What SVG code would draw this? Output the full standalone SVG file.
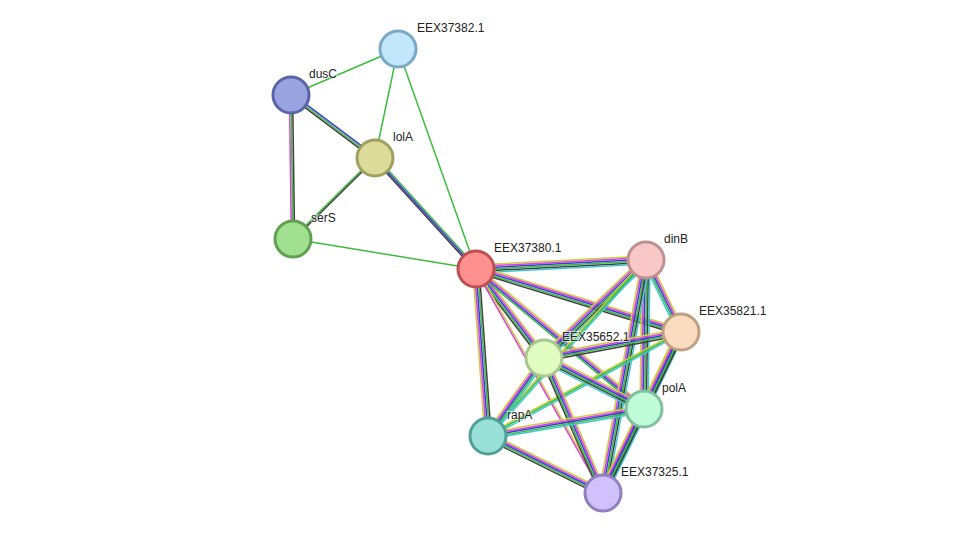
<svg xmlns="http://www.w3.org/2000/svg" xmlns:xlink="http://www.w3.org/1999/xlink" width="976" height="539" viewBox="0 0 976 539">
<style>
.g{stroke:#3dbd3d}.b{stroke:#3a3ae0}.m{stroke:#e040e0}.k{stroke:#404040}.y{stroke:#c8d040}.c{stroke:#40c8d0}
#edges line,#edges use{stroke-width:1.5;fill:none}
.n{stroke-width:3}
text{font-family:"Liberation Sans",Arial,sans-serif;font-size:12px;fill:#222;paint-order:stroke;stroke:#fff;stroke-width:2px;stroke-opacity:.6}
</style>
<defs>
<line id="e5" x1="291" y1="95" x2="375" y2="158"/>
<line id="e6" x1="291" y1="95" x2="293" y2="239"/>
<line id="e7" x1="375" y1="158" x2="293" y2="239"/>
<line id="e8" x1="375" y1="158" x2="476" y2="269"/>
<line id="e9" x1="476" y1="269" x2="646" y2="260"/>
<line id="e10" x1="476" y1="269" x2="681" y2="332"/>
<line id="e11" x1="476" y1="269" x2="544" y2="358"/>
<line id="e12" x1="476" y1="269" x2="644" y2="409"/>
<line id="e13" x1="476" y1="269" x2="488" y2="436"/>
<line id="e14" x1="476" y1="269" x2="603" y2="493"/>
<line id="e15" x1="646" y1="260" x2="681" y2="332"/>
<line id="e16" x1="646" y1="260" x2="544" y2="358"/>
<line id="e17" x1="646" y1="260" x2="644" y2="409"/>
<line id="e18" x1="646" y1="260" x2="488" y2="436"/>
<line id="e19" x1="646" y1="260" x2="603" y2="493"/>
<line id="e20" x1="681" y1="332" x2="544" y2="358"/>
<line id="e21" x1="681" y1="332" x2="644" y2="409"/>
<line id="e22" x1="681" y1="332" x2="488" y2="436"/>
<line id="e23" x1="681" y1="332" x2="603" y2="493"/>
<line id="e24" x1="544" y1="358" x2="644" y2="409"/>
<line id="e25" x1="544" y1="358" x2="488" y2="436"/>
<line id="e26" x1="544" y1="358" x2="603" y2="493"/>
<line id="e27" x1="644" y1="409" x2="488" y2="436"/>
<line id="e28" x1="644" y1="409" x2="603" y2="493"/>
<line id="e29" x1="488" y1="436" x2="603" y2="493"/>
</defs>
<rect width="976" height="539" fill="#fff"/>
<g id="edges">
<line class="g" x1="291" y1="95" x2="398" y2="49"/>
<line class="g" x1="375" y1="158" x2="398" y2="49"/>
<line class="g" x1="476" y1="269" x2="398" y2="49"/>
<line class="g" x1="293" y1="239" x2="476" y2="269"/>
<use href="#e5" class="b" transform="translate(0.96,-1.28)"/><use href="#e5" class="g"/><use href="#e5" class="k" transform="translate(-0.96,1.28)"/>
<use href="#e6" class="m" transform="translate(-1.6,0)"/><use href="#e6" class="g"/><use href="#e6" class="k" transform="translate(1.6,0)"/>
<use href="#e7" class="g" transform="translate(-0.56,-0.56)"/><use href="#e7" class="k" transform="translate(0.56,0.56)"/>
<use href="#e8" class="g" transform="translate(1.18,-1.07)"/><use href="#e8" class="b"/><use href="#e8" class="k" transform="translate(-1.18,1.07)"/>
<use href="#e9" class="y" transform="translate(0,-4)"/><use href="#e9" class="m" transform="translate(0,-2.4)"/><use href="#e9" class="b" transform="translate(0,-0.8)"/><use href="#e9" class="g" transform="translate(0,0.8)"/><use href="#e9" class="k" transform="translate(0,2.4)"/><use href="#e9" class="c" transform="translate(0,4)"/>
<use href="#e10" class="y" transform="translate(0.93,-3.07)"/><use href="#e10" class="m" transform="translate(0.46,-1.54)"/><use href="#e10" class="b"/><use href="#e10" class="g" transform="translate(-0.46,1.54)"/><use href="#e10" class="k" transform="translate(-0.93,3.07)"/>
<use href="#e11" class="y" transform="translate(2.53,-1.95)"/><use href="#e11" class="m" transform="translate(1.26,-0.98)"/><use href="#e11" class="b"/><use href="#e11" class="g" transform="translate(-1.26,0.98)"/><use href="#e11" class="k" transform="translate(-2.53,1.95)"/>
<use href="#e12" class="y" transform="translate(1.54,-1.85)"/><use href="#e12" class="m" transform="translate(0.51,-0.62)"/><use href="#e12" class="b" transform="translate(-0.51,0.62)"/><use href="#e12" class="g" transform="translate(-1.54,1.85)"/>
<use href="#e13" class="y" transform="translate(-3.2,0)"/><use href="#e13" class="m" transform="translate(-1.6,0)"/><use href="#e13" class="b"/><use href="#e13" class="g" transform="translate(1.6,0)"/><use href="#e13" class="k" transform="translate(3.2,0)"/>
<use href="#e14" class="y" transform="translate(0.7,-0.39)"/><use href="#e14" class="m" transform="translate(-0.7,0.39)"/>
<use href="#e15" class="y" transform="translate(2.88,-1.41)"/><use href="#e15" class="m" transform="translate(1.44,-0.7)"/><use href="#e15" class="b"/><use href="#e15" class="g" transform="translate(-1.44,0.7)"/><use href="#e15" class="c" transform="translate(-2.88,1.41)"/>
<use href="#e16" class="y" transform="translate(-2.76,-2.88)"/><use href="#e16" class="m" transform="translate(-1.66,-1.73)"/><use href="#e16" class="b" transform="translate(-0.55,-0.58)"/><use href="#e16" class="g" transform="translate(0.55,0.58)"/><use href="#e16" class="k" transform="translate(1.66,1.73)"/><use href="#e16" class="c" transform="translate(2.76,2.88)"/>
<use href="#e17" class="y" transform="translate(-4,0)"/><use href="#e17" class="m" transform="translate(-2.4,0)"/><use href="#e17" class="b" transform="translate(-0.8,0)"/><use href="#e17" class="g" transform="translate(0.8,0)"/><use href="#e17" class="k" transform="translate(2.4,0)"/><use href="#e17" class="c" transform="translate(4,0)"/>
<use href="#e18" class="y" transform="translate(-1.18,-1.07)"/><use href="#e18" class="g"/><use href="#e18" class="c" transform="translate(1.18,1.07)"/>
<use href="#e19" class="y" transform="translate(-3.92,-0.72)"/><use href="#e19" class="m" transform="translate(-2.35,-0.43)"/><use href="#e19" class="b" transform="translate(-0.78,-0.14)"/><use href="#e19" class="g" transform="translate(0.78,0.14)"/><use href="#e19" class="k" transform="translate(2.35,0.43)"/><use href="#e19" class="c" transform="translate(3.92,0.72)"/>
<use href="#e20" class="y" transform="translate(-0.61,-3.14)"/><use href="#e20" class="m" transform="translate(-0.3,-1.57)"/><use href="#e20" class="b"/><use href="#e20" class="g" transform="translate(0.3,1.57)"/><use href="#e20" class="k" transform="translate(0.61,3.14)"/>
<use href="#e21" class="y" transform="translate(-3.6,-1.72)"/><use href="#e21" class="m" transform="translate(-2.16,-1.03)"/><use href="#e21" class="b" transform="translate(-0.72,-0.34)"/><use href="#e21" class="g" transform="translate(0.72,0.34)"/><use href="#e21" class="k" transform="translate(2.16,1.03)"/><use href="#e21" class="c" transform="translate(3.6,1.72)"/>
<use href="#e22" class="y" transform="translate(-0.75,-1.41)"/><use href="#e22" class="g"/><use href="#e22" class="c" transform="translate(0.75,1.41)"/>
<use href="#e23" class="y" transform="translate(-2.88,-1.41)"/><use href="#e23" class="m" transform="translate(-1.44,-0.7)"/><use href="#e23" class="b"/><use href="#e23" class="g" transform="translate(1.44,0.7)"/><use href="#e23" class="k" transform="translate(2.88,1.41)"/>
<use href="#e24" class="y" transform="translate(1.8,-3.56)"/><use href="#e24" class="m" transform="translate(1.08,-2.14)"/><use href="#e24" class="b" transform="translate(0.36,-0.71)"/><use href="#e24" class="g" transform="translate(-0.36,0.71)"/><use href="#e24" class="k" transform="translate(-1.08,2.14)"/><use href="#e24" class="c" transform="translate(-1.8,3.56)"/>
<use href="#e25" class="y" transform="translate(-2.59,-1.86)"/><use href="#e25" class="m" transform="translate(-1.3,-0.93)"/><use href="#e25" class="b"/><use href="#e25" class="g" transform="translate(1.3,0.93)"/><use href="#e25" class="c" transform="translate(2.59,1.86)"/>
<use href="#e26" class="y" transform="translate(2.94,-1.28)"/><use href="#e26" class="m" transform="translate(1.47,-0.64)"/><use href="#e26" class="b"/><use href="#e26" class="g" transform="translate(-1.47,0.64)"/><use href="#e26" class="k" transform="translate(-2.94,1.28)"/>
<use href="#e27" class="y" transform="translate(-0.54,-3.17)"/><use href="#e27" class="m" transform="translate(-0.27,-1.58)"/><use href="#e27" class="b"/><use href="#e27" class="g" transform="translate(0.27,1.58)"/><use href="#e27" class="c" transform="translate(0.54,3.17)"/>
<use href="#e28" class="y" transform="translate(-3.6,-1.72)"/><use href="#e28" class="m" transform="translate(-2.16,-1.03)"/><use href="#e28" class="b" transform="translate(-0.72,-0.34)"/><use href="#e28" class="g" transform="translate(0.72,0.34)"/><use href="#e28" class="k" transform="translate(2.16,1.03)"/><use href="#e28" class="c" transform="translate(3.6,1.72)"/>
<use href="#e29" class="y" transform="translate(1.41,-2.88)"/><use href="#e29" class="m" transform="translate(0.7,-1.44)"/><use href="#e29" class="b"/><use href="#e29" class="g" transform="translate(-0.7,1.44)"/><use href="#e29" class="k" transform="translate(-1.41,2.88)"/>
</g>
<g id="EEX37382.1"><circle class="n" cx="398" cy="49" r="18" fill="#c2e6fa" stroke="#7aa8c8"/><text x="417" y="32">EEX37382.1</text></g>
<g id="dusC"><circle class="n" cx="291" cy="95" r="18" fill="#9aa4e0" stroke="#5a64a8"/><text x="309" y="78">dusC</text></g>
<g id="lolA"><circle class="n" cx="375" cy="158" r="18" fill="#dcdc9a" stroke="#a0a060"/><text x="393" y="141">lolA</text></g>
<g id="serS"><circle class="n" cx="293" cy="239" r="18" fill="#a0e090" stroke="#60a050"/><text x="311" y="222">serS</text></g>
<g id="EEX37380.1"><circle class="n" cx="476" cy="269" r="18" fill="#ff9090" stroke="#c05050"/><text x="494" y="252">EEX37380.1</text></g>
<g id="dinB"><circle class="n" cx="646" cy="260" r="18" fill="#f8c8c8" stroke="#c09090"/><text x="664" y="243">dinB</text></g>
<g id="EEX35821.1"><circle class="n" cx="681" cy="332" r="18" fill="#fcdcc0" stroke="#c0a080"/><text x="699" y="315">EEX35821.1</text></g>
<g id="EEX35652.1"><circle class="n" cx="544" cy="358" r="18" fill="#e0fcc0" stroke="#a8c890"/><text x="562" y="341">EEX35652.1</text></g>
<g id="polA"><circle class="n" cx="644" cy="409" r="18" fill="#c0fcd8" stroke="#80c0a0"/><text x="662" y="392">polA</text></g>
<g id="rapA"><circle class="n" cx="488" cy="436" r="18" fill="#98e0d8" stroke="#50a098"/><text x="507" y="419">rapA</text></g>
<g id="EEX37325.1"><circle class="n" cx="603" cy="493" r="18" fill="#d0c0fc" stroke="#9080c0"/><text x="621" y="476">EEX37325.1</text></g>
</svg>
